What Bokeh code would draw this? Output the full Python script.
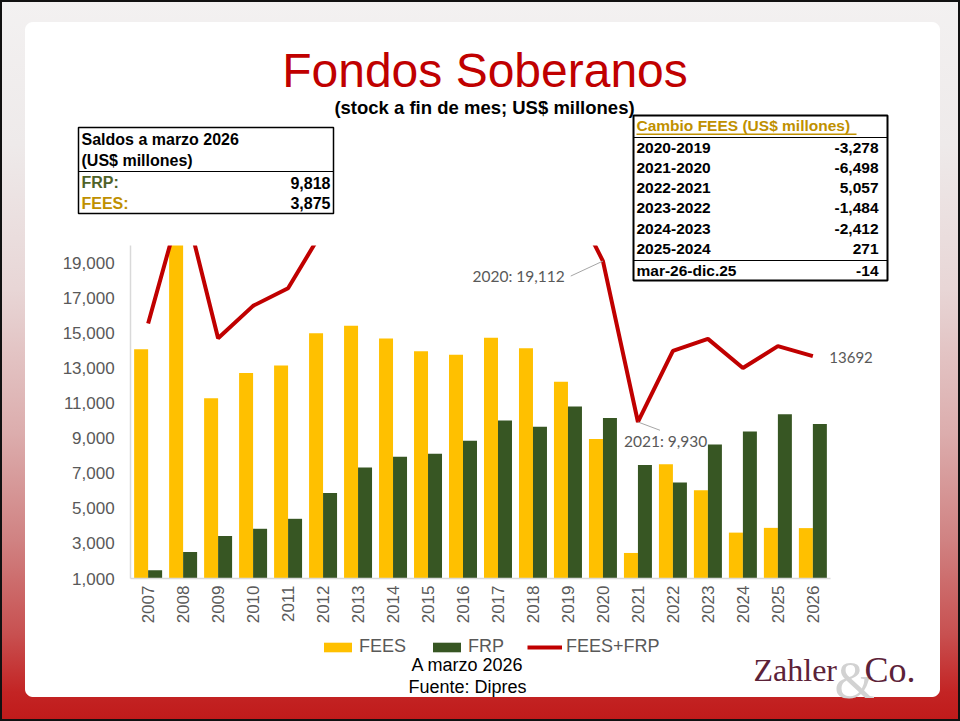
import math
from bokeh.plotting import figure
from bokeh.models import (ColumnDataSource, FactorRange, Range1d, FixedTicker,
                          NumeralTickFormatter, Label, BoxAnnotation, Legend,
                          LegendItem, GlobalInlineStyleSheet)
from bokeh.transform import dodge
from bokeh.embed import file_html
from bokeh.resources import INLINE

# ---------------- data ----------------
years = [str(y) for y in range(2007, 2027)]
fees = [14086, 20211, 11285, 12720, 13157, 14998, 15419, 14689, 13966, 13772,
        14739, 14134, 12233, 8955, 2457, 7514, 6030, 3618, 3889, 3875]
frp = [1466, 2507, 3421, 3837, 4406, 5883, 7335, 7944, 8112, 8862,
       10011, 9663, 10812, 10157, 7473, 6475, 8642, 9391, 10371, 9818]
total = [15552, 22718, 14706, 16557, 17563, 20881, 22754, 22633, 22078, 22634,
         24750, 23797, 23045, 19112, 9930, 13989, 14672, 13009, 14260, 13692]
y_ticks = [1000, 3000, 5000, 7000, 9000, 11000, 13000, 15000, 17000, 19000]
y_min, y_max = 1000, 20000

saldo_labels = ["FRP:", "FEES:"]
saldo_values = ["9,818", "3,875"]
cambio_labels = ["2020-2019", "2021-2020", "2022-2021", "2023-2022",
                 "2024-2023", "2025-2024", "mar-26-dic.25"]
cambio_values = ["-3,278", "-6,498", "5,057", "-1,484", "-2,412", "271", "-14"]

GOLD = "#FFC000"
GREEN = "#375623"
RED = "#C00000"
GRAY = "#595959"
FONT = "Liberation Sans"

W, H = 960, 721
# page pixels of the plot area
PX0, PX1, PY_TOP, PY_BOT = 130, 829, 245, 578


def sx(X):
    return X


def sy(Y):
    return H - Y


# range extents so that the plot area lands at PX0..PX1 / PY_TOP..PY_BOT
n = len(years)
pad_frac = 2 * (PX0 / ((PX1 - PX0) / n)) / n
px_per_val = (PY_BOT - PY_TOP) / (y_max - y_min)
y_start = y_min - (H - PY_BOT) / px_per_val
y_end = y_max + PY_TOP / px_per_val

src = ColumnDataSource(dict(years=years, fees=fees, frp=frp, total=total))

p = figure(width=W, height=H,
           x_range=FactorRange(factors=years, range_padding=pad_frac),
           y_range=Range1d(y_start, y_end),
           output_backend="svg", toolbar_location=None,
           min_border=0, min_border_left=0, min_border_right=0,
           min_border_top=0, min_border_bottom=0,
           background_fill_color=None, border_fill_color=None,
           outline_line_color=None)

# page background (gradient + thin dark frame) and white rounded panel
p.stylesheets = [GlobalInlineStyleSheet(css=(
    "html { min-height: 100%; background: linear-gradient(to bottom, "
    "#f3f1f1 0%, #eeeaea 20%, #e8d6d6 40%, #dcadad 60%, #d08282 75%, "
    "#c85050 88%, #c32424 96%, #c01a1a 100%); "
    "box-shadow: inset 0 0 0 2px #111; }"
    "body { background: transparent; }"))]
corner = "radial-gradient(circle at 8px 8px, #fff 7.5px, rgba(255,255,255,0) 8.5px)"
p.styles = {"background": (
    "linear-gradient(#fff,#fff) 25px 30px / 915px 659px no-repeat, "
    "linear-gradient(#fff,#fff) 33px 22px / 899px 675px no-repeat, "
    f"{corner} 25px 22px / 16px 16px no-repeat, "
    f"{corner} 924px 22px / 16px 16px no-repeat, "
    f"{corner} 25px 681px / 16px 16px no-repeat, "
    f"{corner} 924px 681px / 16px 16px no-repeat")}

# ---------------- marks ----------------
r_fees = p.vbar(x=dodge("years", -0.2, range=p.x_range), top="fees", bottom=y_min,
                width=0.4, source=src, fill_color=GOLD, line_color=None)
r_frp = p.vbar(x=dodge("years", 0.2, range=p.x_range), top="frp", bottom=y_min,
               width=0.4, source=src, fill_color=GREEN, line_color=None)
r_tot = p.line(x="years", y="total", source=src, line_color=RED, line_width=4)

# ---------------- axes ----------------
p.xgrid.grid_line_color = None
p.ygrid.grid_line_color = None
p.yaxis.ticker = FixedTicker(ticks=y_ticks)
p.yaxis.formatter = NumeralTickFormatter(format="0,0")
p.yaxis.fixed_location = 0
p.yaxis.bounds = (y_min, y_max)
p.xaxis.fixed_location = y_min
p.xaxis.bounds = (0, n)
for ax in (p.xaxis[0], p.yaxis[0]):
    ax.axis_line_color = "#D9D9D9"
    ax.axis_line_width = 1.5
    ax.major_tick_line_color = None
    ax.minor_tick_line_color = None
    ax.major_tick_out = 0
    ax.major_tick_in = 0
    ax.minor_tick_out = 0
    ax.minor_tick_in = 0
    ax.major_label_text_font = FONT
    ax.major_label_text_font_size = "17px"
    ax.major_label_text_color = GRAY
p.yaxis.major_label_standoff = 16
p.xaxis.major_label_standoff = 7
p.xaxis.major_label_orientation = math.pi / 2

# clip of the line above the top of the value axis (plot area edge)
p.add_layout(BoxAnnotation(left=sx(PX0 + 1), right=sx(PX1 + 2), top=sy(140),
                           bottom=sy(PY_TOP), left_units="screen",
                           right_units="screen", top_units="screen",
                           bottom_units="screen", fill_color="white",
                           fill_alpha=1, line_color=None, level="annotation"))

# ---------------- data labels ----------------
i20 = years.index("2020")
i21 = years.index("2021")
p.segment(x0=[i20 + 0.5, i21 + 0.5], y0=[total[i20], total[i21]],
          x1=[12.58, 15.13], y1=[18257, 9457], line_color="#A6A6A6", line_width=1)
p.add_layout(Label(x=12.41, y=18257, text=f"{years[i20]}: {total[i20]:,}",
                   text_font="Lato", text_font_size="15.5px", text_color=GRAY,
                   text_align="right", text_baseline="middle"))
p.add_layout(Label(x=14.10, y=8829, text=f"{years[i21]}: {total[i21]:,}",
                   text_font="Lato", text_font_size="15.5px", text_color=GRAY,
                   text_align="left", text_baseline="middle"))
p.add_layout(Label(x=19.97, y=13629, text=f"{total[-1]}",
                   text_font="Lato", text_font_size="15px", text_color=GRAY,
                   text_align="left", text_baseline="middle"))


# ---------------- helpers for page annotations ----------------
def txt(X, Y, text, size="16px", color="black", align="left", bold=False,
        font=FONT):
    p.add_layout(Label(x=sx(X), y=sy(Y), x_units="screen", y_units="screen",
                       text=text, text_font=font, text_font_size=size,
                       text_color=color, text_align=align,
                       text_baseline="middle",
                       text_font_style="bold" if bold else "normal"))


def box(x0, y0, x1, y1, fill=None, line=None, lw=1):
    p.add_layout(BoxAnnotation(left=sx(x0), right=sx(x1), top=sy(y0), bottom=sy(y1),
                               left_units="screen", right_units="screen",
                               top_units="screen", bottom_units="screen",
                               fill_color=fill, fill_alpha=1 if fill else 0,
                               line_color=line, line_alpha=1 if line else 0,
                               line_width=lw, level="annotation"))


# titles
txt(484.5, 70, "Fondos Soberanos", size="48px", color=RED, align="center")
txt(484, 107, "(stock a fin de mes; US$ millones)", size="18.5px", align="center",
    bold=True)

# left table
box(78, 127, 333, 213, fill="white", line="black", lw=1.5)
box(78, 170.5, 333, 171.5, fill="black")
txt(81, 139, "Saldos a marzo 2026", bold=True)
txt(81, 160, "(US$ millones)", bold=True)
saldo_colors = ["#4F6228", "#BF9000"]
for k, (lab, val) in enumerate(zip(saldo_labels, saldo_values)):
    yy = 182 + 20.5 * k
    txt(81, yy, lab, bold=True, color=saldo_colors[k])
    txt(330, yy, val, bold=True, align="right")

# right table
box(633, 115, 887, 280, fill="white", line="black", lw=2)
txt(636, 125, "Cambio FEES (US$ millones)", size="15.5px", bold=True, color="#BF9000")
box(636, 133, 856, 134.5, fill="#BF9000")
box(633, 136.5, 887, 137.5, fill="black")
box(633, 259.5, 887, 260.5, fill="black")
for k, (lab, val) in enumerate(zip(cambio_labels, cambio_values)):
    yy = 147 + 20.3 * k if k < 6 else 270
    txt(636, yy, lab, size="15.5px", bold=True)
    txt(878, yy, val, size="15.5px", bold=True, align="right")

# legend
legend = Legend(items=[LegendItem(label="FEES", renderers=[r_fees]),
                       LegendItem(label="FRP", renderers=[r_frp]),
                       LegendItem(label="FEES+FRP", renderers=[r_tot])],
                location=(sx(320), sy(657)), orientation="horizontal",
                glyph_width=35, glyph_height=12, label_standoff=4, spacing=23,
                padding=0, margin=0, border_line_color=None,
                background_fill_alpha=0, label_text_font=FONT,
                label_text_font_size="18px", label_text_color=GRAY)
p.add_layout(legend)

# footnotes
txt(467, 664, "A marzo 2026", size="18px", align="center")
txt(467, 686, "Fuente: Dipres", size="18px", align="center")

# logo
txt(834, 680, "&", size="52px", color="#D2D2D2", font="Liberation Serif")
txt(753, 669, "Zahler", size="32px", color="#5C2238", font="Liberation Serif")
txt(864, 669, "Co.", size="36px", color="#5C2238", font="Liberation Serif")

open("out.html", "w").write(file_html(p, INLINE))
